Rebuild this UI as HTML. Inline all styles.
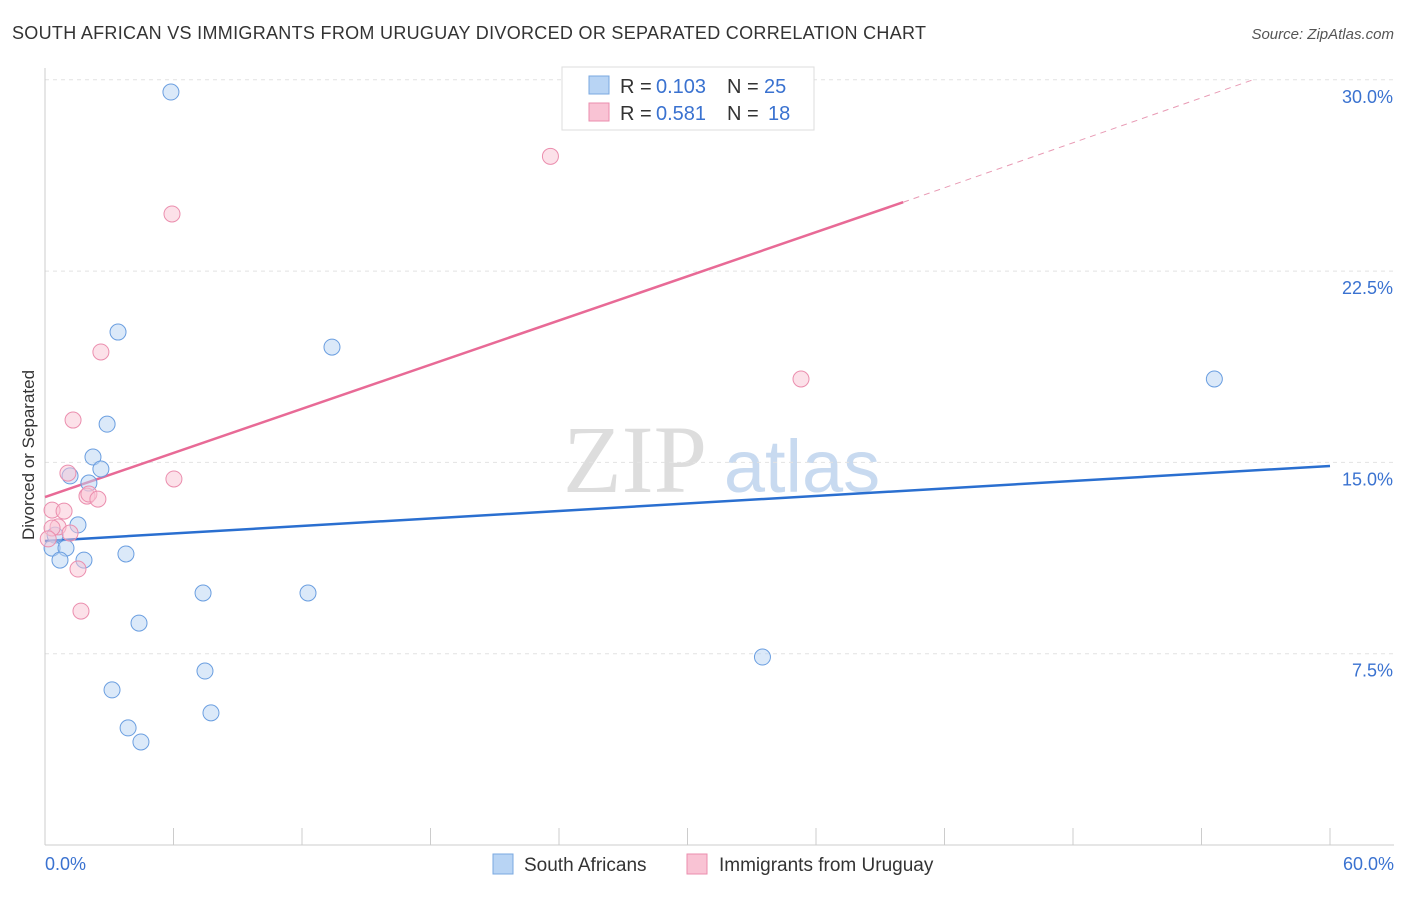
<!DOCTYPE html>
<html><head><meta charset="utf-8"><style>
body{margin:0;background:#fff;font-family:"Liberation Sans",sans-serif;}
</style></head><body>
<svg width="1406" height="892" xmlns="http://www.w3.org/2000/svg" id="chart">
<text x="12" y="39" font-size="18" fill="#333" textLength="914">SOUTH AFRICAN VS IMMIGRANTS FROM URUGUAY DIVORCED OR SEPARATED CORRELATION CHART</text>
<text x="1394" y="39" font-size="15" fill="#555" font-style="italic" text-anchor="end">Source: ZipAtlas.com</text>
<text x="34" y="455" font-size="17" fill="#333" transform="rotate(-90 34 455)" text-anchor="middle">Divorced or Separated</text>
<g><text x="635" y="492" font-size="96" fill="#ddd" font-family="Liberation Serif" text-anchor="middle">ZIP</text><text x="802" y="492" font-size="74" fill="#c8daf0" text-anchor="middle">atlas</text></g>
<g id="grid"></g><g id="axes"></g><g id="lines"></g><g id="pts"></g>
<g>
<rect x="562" y="67" width="252" height="63" fill="#fff" stroke="#ddd"/>
<rect x="589" y="76" width="20" height="18" fill="#b8d4f4" stroke="#7aa8e0"/>
<rect x="589" y="103" width="20" height="18" fill="#f9c3d4" stroke="#eb8eae"/>
<text x="620" y="93" font-size="20" fill="#333">R =</text>
<text x="656" y="93" font-size="20" fill="#3a72d0">0.103</text>
<text x="727" y="93" font-size="20" fill="#333">N =</text>
<text x="764" y="93" font-size="20" fill="#3a72d0">25</text>
<text x="620" y="120" font-size="20" fill="#333">R =</text>
<text x="656" y="120" font-size="20" fill="#3a72d0">0.581</text>
<text x="727" y="120" font-size="20" fill="#333">N =</text>
<text x="768" y="120" font-size="20" fill="#3a72d0">18</text>
</g>
<g>
<rect x="493" y="854" width="20" height="20" fill="#b8d4f4" stroke="#7aa8e0"/>
<text x="524" y="871" font-size="19" fill="#333">South Africans</text>
<rect x="687" y="854" width="20" height="20" fill="#f9c3d4" stroke="#eb8eae"/>
<text x="719" y="871" font-size="19" fill="#333">Immigrants from Uruguay</text>
</g>
</svg>
<script>
const blueX=[5.88,3.41,13.4,2.9,2.24,2.61,1.17,2.05,1.54,0.47,0.33,0.98,0.70,1.82,3.78,7.38,12.28,4.39,7.47,3.13,7.75,3.88,4.48,33.5,54.6];
const blueY=[29.52,20.11,19.52,16.5,15.21,14.74,14.47,14.19,12.55,12.15,11.64,11.64,11.17,11.17,11.41,9.88,9.88,8.70,6.82,6.08,5.18,4.59,4.04,7.37,18.27];
const pinkX=[23.6,5.93,2.61,1.31,6.02,1.07,1.96,2.05,2.47,0.33,0.89,0.61,1.17,0.33,1.54,1.68,35.3,0.15];
const pinkY=[27.0,24.74,19.33,16.66,14.35,14.58,13.68,13.76,13.56,13.13,13.09,12.47,12.23,12.43,10.82,9.17,18.27,12.0];
const yTicks=[7.5,15,22.5,30];
const yTickLabels=["7.5%","15.0%","22.5%","30.0%"];
const blueTrend=[0,11.92,60,14.86];
const pinkTrend=[0,13.64,40.07,25.2,56.4,30];
const NS="http://www.w3.org/2000/svg";
const X=v=>45+v/60*1285, Y=v=>845-v/7.5*191.3;
function mk(p,t,a){const e=document.createElementNS(NS,t);for(const k in a)e.setAttribute(k,a[k]);document.getElementById(p).appendChild(e);return e;}
yTicks.forEach((t,i)=>{
 const l=mk('grid','line',{x1:45,x2:1394,y1:Y(t),y2:Y(t),stroke:'#e2e2e2','stroke-dasharray':'4,4'});
 
 
 const tx=mk('grid','text',{x:1393,y:Y(t)+23,'font-size':18,fill:'#3a72d0','text-anchor':'end'});tx.textContent=yTickLabels[i];
 
 
});
mk('axes','line',{x1:45,x2:45,y1:68,y2:845,stroke:'#ccc'});
mk('axes','line',{x1:45,x2:1394,y1:845,y2:845,stroke:'#ccc'});
for(let i=0;i<=10;i++){mk('axes','line',{x1:X(i*6),x2:X(i*6),y1:828,y2:845,stroke:'#ccc'});}
let t1=mk('axes','text',{x:45,y:870,'font-size':18,fill:'#3a72d0'});t1.textContent='0.0%';


let t2=mk('axes','text',{x:1394,y:870,'font-size':18,fill:'#3a72d0','text-anchor':'end'});t2.textContent='60.0%';


function dot(x,y,f,s){const c=mk('pts','circle',{cx:X(x),cy:Y(y),r:8,fill:f,'fill-opacity':0.5,stroke:s,'stroke-width':1});
 
 }
blueX.forEach((x,i)=>dot(x,blueY[i],'#b8d4f4','#6a9ee0'));
pinkX.forEach((x,i)=>dot(x,pinkY[i],'#f9c3d4','#eb8eae'));
let bl=mk('lines','line',{x1:X(blueTrend[0]),y1:Y(blueTrend[1]),x2:X(blueTrend[2]),y2:Y(blueTrend[3]),stroke:'#2a6fd0','stroke-width':2.5});


let pl=mk('lines','line',{x1:X(pinkTrend[0]),y1:Y(pinkTrend[1]),x2:X(pinkTrend[2]),y2:Y(pinkTrend[3]),stroke:'#e86a96','stroke-width':2.5});


let pd=mk('lines','line',{x1:X(pinkTrend[2]),y1:Y(pinkTrend[3]),x2:X(pinkTrend[4]),y2:Y(pinkTrend[5]),stroke:'#e89ab4','stroke-width':1,'stroke-dasharray':'6,5'});


</script>
</body></html>
